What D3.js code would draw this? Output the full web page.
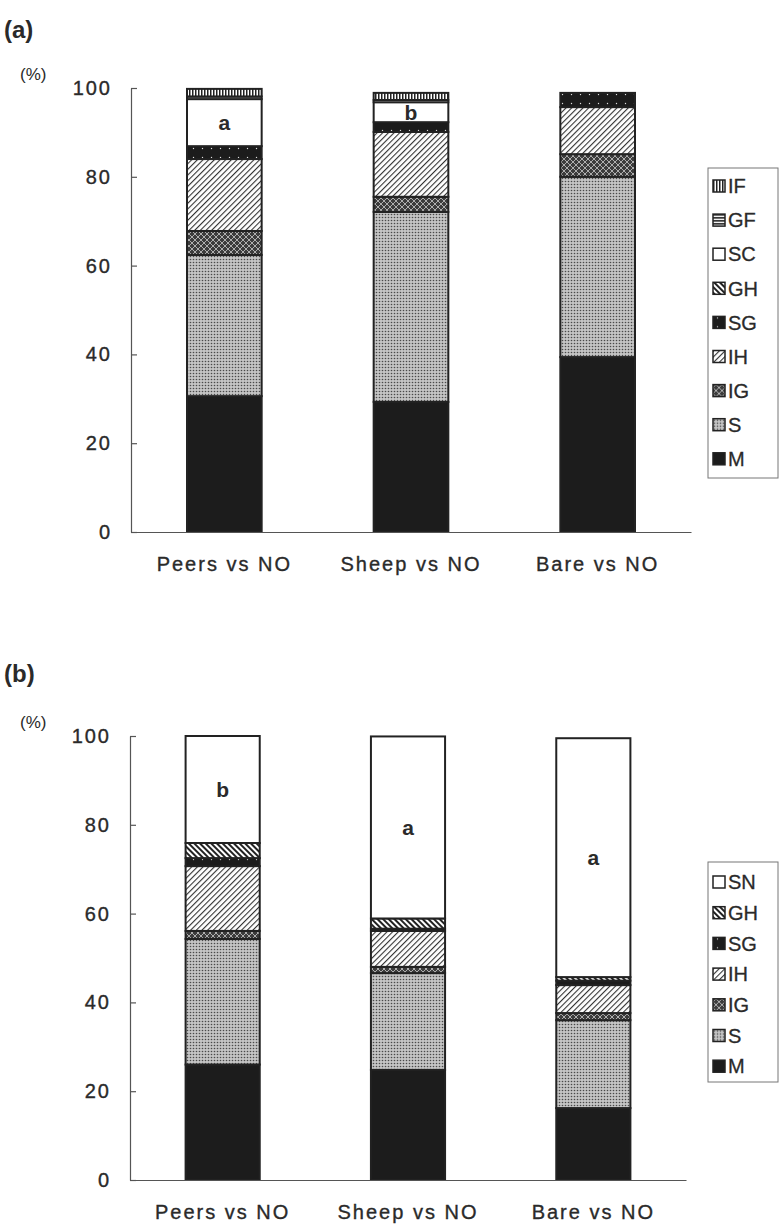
<!DOCTYPE html>
<html>
<head>
<meta charset="utf-8">
<script src="https://cdn.jsdelivr.net/npm/d3@7"></script>
<style>
  body { margin: 0; background: #fff; }
  svg text { font-family: "Liberation Sans", Arial, sans-serif; fill: #2a2a2a; }
</style>
</head>
<body>
<div id="chart"></div>
<script>
// categories
const groups = ["Peers vs NO", "Sheep vs NO", "Bare vs NO"];
const yTicks = [0, 20, 40, 60, 80, 100];

// panel (a) series, % (bottom to top)
const keysA = ["M", "S", "IG", "IH", "SG", "GH", "SC", "GF", "IF"];
const a_M  = [30.6, 29.3, 39.4];
const a_S  = [31.8, 42.8, 40.6];
const a_IG = [5.4, 3.4, 5.1];
const a_IH = [16.2, 14.6, 10.6];
const a_SG = [2.9, 2.2, 3.2];
const a_GH = [0, 0, 0];
const a_SC = [10.6, 4.5, 0];
const a_GF = [0.6, 0.5, 0];
const a_IF = [1.7, 1.6, 0];
const lettersA = ["a", "b", ""];

// panel (b) series, % (bottom to top)
const keysB = ["M", "S", "IG", "IH", "SG", "GH", "SN"];
const b_M  = [26.0, 24.8, 16.2];
const b_S  = [28.3, 21.8, 19.8];
const b_IG = [1.8, 1.4, 1.6];
const b_IH = [14.6, 8.1, 6.3];
const b_SG = [1.8, 0.5, 1.0];
const b_GH = [3.4, 2.3, 0.8];
const b_SN = [24.1, 41.0, 53.8];
const lettersB = ["b", "a", "a"];

const rowsA = groups.map((g, i) => ({
  group: g, M: a_M[i], S: a_S[i], IG: a_IG[i], IH: a_IH[i], SG: a_SG[i],
  GH: a_GH[i], SC: a_SC[i], GF: a_GF[i], IF: a_IF[i], letter: lettersA[i]
}));
const rowsB = groups.map((g, i) => ({
  group: g, M: b_M[i], S: b_S[i], IG: b_IG[i], IH: b_IH[i], SG: b_SG[i],
  GH: b_GH[i], SN: b_SN[i], letter: lettersB[i]
}));

const svg = d3.select("#chart").append("svg")
  .attr("width", 781)
  .attr("height", 1228);

// fill patterns
const defs = svg.append("defs");
function pattern(id, w, h, bg, rotate) {
  const p = defs.append("pattern").attr("id", id)
    .attr("patternUnits", "userSpaceOnUse")
    .attr("width", w).attr("height", h);
  if (rotate) p.attr("patternTransform", `rotate(${rotate})`);
  p.append("rect").attr("width", w).attr("height", h).attr("fill", bg);
  return p;
}
pattern("pM", 4, 4, "#1c1c1c");
const pS = pattern("pS", 3, 3, "#c4c4c4");
pS.append("circle").attr("cx", 1.5).attr("cy", 1.5).attr("r", 0.8).attr("fill", "#4a4a4a");
const pIG = pattern("pIG", 6, 6, "#3c3c3c");
pIG.append("path").attr("d", "M0,3 L3,0 L6,3 L3,6 Z").attr("fill", "none")
  .attr("stroke", "#bbb").attr("stroke-width", 0.9);
// IH: thin "/" hatching
const pIH = pattern("pIH", 4, 4, "#fff", 45);
pIH.append("rect").attr("width", 1.1).attr("height", 4).attr("fill", "#333");
const pSG = pattern("pSG", 9, 9, "#1c1c1c");
pSG.append("circle").attr("cx", 4.5).attr("cy", 4.5).attr("r", 0.7).attr("fill", "#ddd");
// GH: heavy "\" hatching
const pGH = pattern("pGH", 4, 4, "#fff", -45);
pGH.append("rect").attr("width", 2).attr("height", 4).attr("fill", "#222");
pattern("pSC", 4, 4, "#fff");
const pGF = pattern("pGF", 4, 3, "#fff");
pGF.append("rect").attr("width", 4).attr("height", 1.6).attr("fill", "#222");
const pIF = pattern("pIF", 3, 4, "#fff");
pIF.append("rect").attr("width", 1.5).attr("height", 4).attr("fill", "#222");

const fillOf = (k) => k === "SN" ? "url(#pSC)" : `url(#p${k})`;

function drawPanel(opt) {
  const { rows, keys, top, bottom, x0, x1, tag, tagY, legendTop, legendBottom, legendFirst, legendStep } = opt;

  const x = d3.scaleBand().domain(groups).range([x0, x1])
    .paddingInner(0.6).paddingOuter(0.3);
  const y = d3.scaleLinear().domain([0, 100]).range([bottom, top]);

  const g = svg.append("g");

  // panel tag and unit
  svg.append("text").attr("x", 4).attr("y", tagY)
    .style("font-size", "24px").style("font-weight", "bold").text(tag);
  svg.append("text").attr("x", 20).attr("y", top - 8)
    .style("font-size", "17px").text("(%)");

  // stacked bars
  const series = d3.stack().keys(keys)(rows);
  const layer = g.selectAll("g.layer").data(series).join("g")
    .attr("class", "layer")
    .attr("fill", (d) => fillOf(d.key));
  layer.selectAll("rect")
    .data((d) => d.filter((s) => s[1] - s[0] > 0))
    .join("rect")
    .attr("x", (d) => x(d.data.group))
    .attr("width", x.bandwidth())
    .attr("y", (d) => y(d[1]))
    .attr("height", (d) => y(d[0]) - y(d[1]))
    .attr("stroke", "#222")
    .attr("stroke-width", 2);

  // significance letters in the top white segment
  const topKey = keys.includes("SC") ? "SC" : "SN";
  const topSeries = series.find((s) => s.key === topKey);
  g.selectAll("text.letter")
    .data(topSeries.filter((d) => d.data.letter))
    .join("text")
    .attr("class", "letter")
    .attr("x", (d) => x(d.data.group) + x.bandwidth() / 2)
    .attr("y", (d) => (y(d[0]) + y(d[1])) / 2)
    .attr("dy", "0.35em")
    .attr("text-anchor", "middle")
    .style("font-size", "21px")
    .style("font-weight", "bold")
    .text((d) => d.data.letter);

  // axes
  const yAxisG = g.append("g").attr("transform", `translate(${x0},0)`)
    .call(d3.axisLeft(y).tickValues(yTicks).tickSize(-6).tickSizeOuter(0).tickPadding(19));
  const xAxisG = g.append("g").attr("transform", `translate(0,${bottom})`)
    .call(d3.axisBottom(x).tickSize(0).tickPadding(25));
  [yAxisG, xAxisG].forEach((a) => {
    a.selectAll("path, line").attr("stroke", "#555").attr("stroke-width", 1.2);
    a.selectAll("text").style("font-size", "20px").style("letter-spacing", "2px")
      .style("font-family", "'Liberation Sans', Arial, sans-serif")
      .attr("fill", "#2a2a2a").attr("stroke", "#2a2a2a").attr("stroke-width", 0.35);
  });

  // legend
  const lg = svg.append("g");
  lg.append("rect").attr("x", 708).attr("y", legendTop)
    .attr("width", 70).attr("height", legendBottom - legendTop)
    .attr("fill", "none").attr("stroke", "#777").attr("stroke-width", 1);
  const items = keys.slice().reverse();
  const li = lg.selectAll("g.item").data(items).join("g")
    .attr("transform", (d, i) => `translate(713,${legendFirst + i * legendStep})`);
  li.append("rect").attr("x", 0).attr("y", -6).attr("width", 12).attr("height", 12)
    .attr("fill", (d) => fillOf(d)).attr("stroke", "#222").attr("stroke-width", 1.5);
  li.append("text").attr("x", 15).attr("y", 0).attr("dy", "0.36em")
    .style("font-size", "20px").attr("stroke", "#2a2a2a").attr("stroke-width", 0.3)
    .text((d) => d);
}

drawPanel({
  rows: rowsA, keys: keysA, top: 88, bottom: 532, x0: 131, x1: 691,
  tag: "(a)", tagY: 38, legendTop: 168, legendBottom: 478, legendFirst: 186, legendStep: 34.1
});
drawPanel({
  rows: rowsB, keys: keysB, top: 736, bottom: 1180, x0: 130, x1: 686,
  tag: "(b)", tagY: 682, legendTop: 862, legendBottom: 1082, legendFirst: 882, legendStep: 30.7
});
</script>
</body>
</html>
